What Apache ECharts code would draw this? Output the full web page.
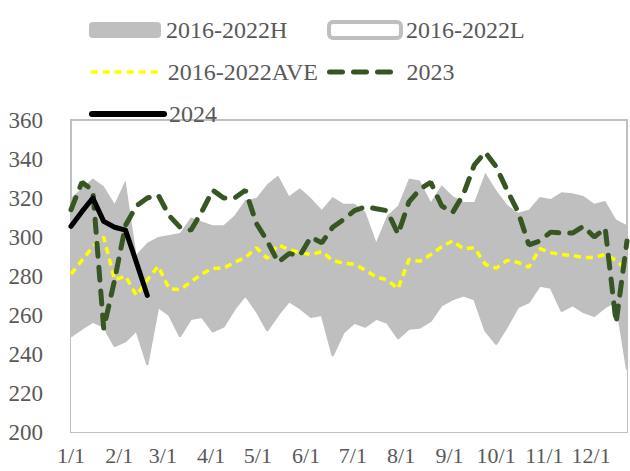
<!DOCTYPE html>
<html>
<head>
<meta charset="utf-8">
<title>2016-2024</title>
<script src="https://cdn.jsdelivr.net/npm/echarts@6/dist/echarts.min.js"></script>
<style>
  html, body { margin: 0; padding: 0; background: #fff; }
  #main { width: 630px; height: 471px; }
</style>
</head>
<body>
<div id="main"></div>
<script>
// weekly points, day of year
var weekDays = [0, 7, 14, 21, 28, 35, 42, 49, 56, 63, 70, 77, 84, 91, 98, 105, 112, 119, 126, 133,
  140, 147, 154, 161, 168, 175, 182, 189, 196, 203, 210, 217, 224, 231, 238, 245, 252, 259, 266, 273,
  280, 287, 294, 301, 308, 315, 322, 329, 336, 343, 350, 357];
var monthStarts = [0, 31, 59, 90, 120, 151, 181, 212, 243, 273, 304, 334];
var monthLabels = ['1/1', '2/1', '3/1', '4/1', '5/1', '6/1', '7/1', '8/1', '9/1', '10/1', '11/1', '12/1'];

var high = [320, 325, 330, 326, 317, 329, 291, 297, 300, 301, 302, 310, 308, 306, 306, 311, 319, 320, 327, 331.5,
  321, 325, 320, 314, 320.5, 317, 317, 313, 297.5, 311, 316, 330, 329, 318, 326.5, 321, 318, 318, 333, 324,
  316.5, 312.5, 314, 320.5, 319.5, 323, 322.5, 321, 317, 318.5, 309, 306];
var low = [249, 253, 256.5, 254, 244, 246.5, 252, 234.5, 264, 260, 249, 258, 259, 251.5, 254, 263, 270, 262, 252, 260,
  267, 263.5, 259, 260, 239, 251, 256, 254, 258, 256, 248, 253, 253.5, 257, 265, 268, 270, 268, 252, 245,
  254, 264, 266.5, 275, 274, 262, 265, 261.5, 259.5, 264, 267, 232];
var avg = [281, 288, 295, 300, 278, 280, 270, 278, 285, 273.5, 273, 277, 281, 284, 284, 287, 289.5, 294.5, 289, 296,
  293.5, 292, 291, 292.5, 288, 286.5, 286, 283, 279.5, 278, 273.5, 288.5, 287.5, 291, 295, 298, 294, 294.5, 286, 284,
  288, 287, 284.5, 294, 292, 291, 290.5, 289.5, 289.5, 291, 288, 283];
var y2023 = [314, 328, 324, 253, 278, 306, 316, 320, 321.5, 311, 305, 303.5, 313, 324, 320, 320, 324, 307, 298, 287,
  291.5, 290.5, 300, 297, 305, 309, 313.5, 315.5, 314.5, 313.5, 301.5, 318, 324.5, 328, 316, 312.5, 322, 337, 343.5, 336,
  324, 313, 296, 298, 302.5, 302, 302, 305.5, 300, 304.5, 256, 298];
var y2024 = [305.5, 313, 320, 308, 305, 303.5, 287, 270];

var txtColor = '#595959';
var fontName = 'Liberation Serif';

var aveStyle = { width: 3.5, color: '#FFFF00', type: [7, 5] };
var y23Style = { width: 5, color: '#375623', type: [13, 11], cap: 'round' };
var y24Style = { width: 5, color: '#000', cap: 'round', join: 'round' };

function pairs(vals) {
  return vals.map(function (v, i) {
    return [weekDays[i], v];
  });
}

function legendAt(item, left, top) {
  return {
    data: [item],
    left: left,
    top: top,
    padding: 0,
    itemWidth: 72,
    itemHeight: 16,
    selectedMode: false,
    textStyle: { fontFamily: fontName, fontSize: 24, color: txtColor }
  };
}

var chart = echarts.init(document.getElementById('main'), null, { renderer: 'svg' });

// line legend items: hide the marker, keep the line
var noMarker = { opacity: 0 };

var option = {
  backgroundColor: '#fff',
  animation: false,
  legend: [
    legendAt({ name: '2016-2022H', icon: 'roundRect', itemStyle: { color: '#BFBFBF', borderWidth: 0 } }, 89, 18),
    legendAt({ name: '2016-2022L', icon: 'roundRect', itemStyle: { color: '#fff', borderColor: '#BFBFBF', borderWidth: 4 } }, 327, 18),
    legendAt({ name: '2016-2022AVE', itemStyle: noMarker, lineStyle: aveStyle }, 89, 60),
    legendAt({ name: '2023', itemStyle: noMarker, lineStyle: y23Style }, 327, 60),
    legendAt({ name: '2024', itemStyle: noMarker, lineStyle: { width: 6, color: '#000', cap: 'round' } }, 89, 102)
  ],
  grid: {
    left: 71,
    right: 3,
    top: 120,
    bottom: 39,
    show: true,
    borderColor: '#BFBFBF',
    borderWidth: 2
  },
  xAxis: {
    type: 'value',
    min: 0,
    max: 357,
    axisLine: { show: true, lineStyle: { color: '#BFBFBF', width: 2 } },
    axisTick: { show: false },
    splitLine: { show: false },
    axisLabel: {
      customValues: monthStarts,
      margin: 12,
      fontFamily: fontName,
      fontSize: 22,
      color: txtColor,
      formatter: function (v) {
        var i = monthStarts.indexOf(v);
        return i >= 0 ? monthLabels[i] : '';
      }
    }
  },
  yAxis: {
    type: 'value',
    min: 200,
    max: 360,
    interval: 20,
    axisLine: { show: false },
    axisTick: { show: false },
    splitLine: { show: false },
    axisLabel: { margin: 28, fontFamily: fontName, fontSize: 23, color: txtColor }
  },
  series: [
    {
      name: '2016-2022H',
      type: 'line',
      data: pairs(high),
      symbol: 'none',
      lineStyle: { width: 0, color: '#BFBFBF' },
      itemStyle: { color: '#BFBFBF' },
      areaStyle: { color: '#BFBFBF', opacity: 1, origin: 'start' },
      z: 1
    },
    {
      name: '2016-2022L',
      type: 'line',
      data: pairs(low),
      symbol: 'none',
      lineStyle: { width: 2, color: '#BFBFBF' },
      itemStyle: { color: '#BFBFBF' },
      areaStyle: { color: '#fff', opacity: 1, origin: 'start' },
      z: 2
    },
    {
      name: '2016-2022AVE',
      type: 'line',
      data: pairs(avg),
      symbol: 'none',
      lineStyle: aveStyle,
      itemStyle: { color: '#FFFF00' },
      z: 3
    },
    {
      name: '2023',
      type: 'line',
      data: pairs(y2023),
      symbol: 'none',
      lineStyle: y23Style,
      itemStyle: { color: '#375623' },
      z: 4
    },
    {
      name: '2024',
      type: 'line',
      data: pairs(y2024),
      symbol: 'none',
      lineStyle: y24Style,
      itemStyle: { color: '#000' },
      z: 5
    }
  ]
};

chart.setOption(option);
</script>
</body>
</html>
